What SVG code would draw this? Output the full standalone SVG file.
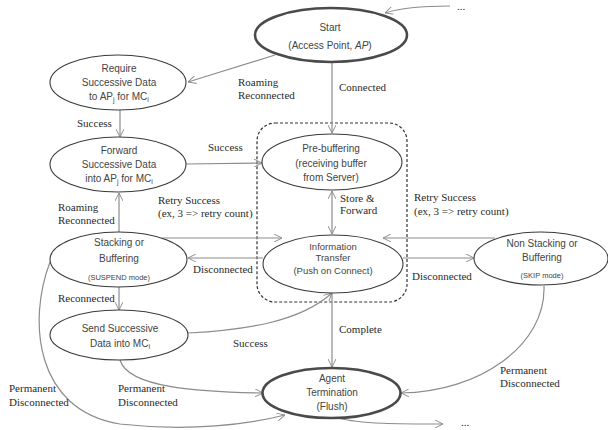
<svg xmlns="http://www.w3.org/2000/svg" width="608" height="430" viewBox="0 0 608 430">
<defs>
<marker id="ah" viewBox="0 0 10 10" refX="10" refY="5" markerWidth="8" markerHeight="8" markerUnits="userSpaceOnUse" orient="auto-start-reverse">
<path d="M0,0 L10,5 L0,10" fill="none" stroke="#8c8c8c" stroke-width="1.2"/>
</marker>
<style>
.n{fill:#fff;stroke:#3a3a3a;stroke-width:1.1}
.nt{fill:#fff;stroke:#4a4a4a;stroke-width:2.6}
.t{font-family:"Liberation Sans","DejaVu Sans",sans-serif;font-size:10px;fill:#444;text-anchor:middle}
.ts{font-size:9.5px}
.tx{font-size:7.5px}
.l{font-family:"Liberation Serif","DejaVu Serif",serif;font-size:11px;fill:#2a2a2a}
.c{fill:none;stroke:#8c8c8c;stroke-width:1.2}
.a{marker-end:url(#ah)}
.b{marker-start:url(#ah);marker-end:url(#ah)}
.sub{font-size:7px}
</style>
</defs>
<rect x="0" y="0" width="608" height="430" fill="#fff"/>
<g id="group">
<rect x="257" y="123" width="150" height="179" rx="18" ry="18" fill="none" stroke="#333" stroke-width="1.2" stroke-dasharray="3,2"/>
</g>
<g id="connectors">
<path class="c a" d="M450,6 C425,6 400,8 385,13"/>
<path class="c a" d="M275,55 L188,82"/>
<path class="c a" d="M332,62 L332,133"/>
<path class="c a" d="M120,110 L120,137"/>
<path class="c a" d="M185,164 L262,163"/>
<path class="c b" d="M332,191 L332,234"/>
<path class="c a" d="M119,232 L119,193"/>
<path class="c a" d="M162,238 L282,238"/>
<path class="c a" d="M263,258 L188,258"/>
<path class="c a" d="M495,238 L383,238"/>
<path class="c a" d="M403,258 L474,258"/>
<path class="c a" d="M119,287 L119,310"/>
<path class="c a" d="M188,333 C245,330 300,322 332,293"/>
<path class="c a" d="M332,293 L332,367"/>
<path class="c a" d="M120,360 C128,388 200,392 263,393"/>
<path class="c a" d="M50,262 C28,320 34,410 120,424 C190,432 250,424 285,415"/>
<path class="c a" d="M544,286 C546,345 480,392 401,393"/>
<path class="c a" d="M338,418 C360,424 400,424 443,424"/>
</g>
<g id="labels">
<text class="l" x="457" y="10">...</text>
<text class="l" x="238" y="86">Roaming</text>
<text class="l" x="238" y="99">Reconnected</text>
<text class="l" x="339" y="91">Connected</text>
<text class="l" x="77" y="127">Success</text>
<text class="l" x="208" y="151">Success</text>
<text class="l" x="158" y="204">Retry Success</text>
<text class="l" x="158" y="217">(ex, 3 =&gt; retry count)</text>
<text class="l" x="340" y="202">Store &amp;</text>
<text class="l" x="340" y="214">Forward</text>
<text class="l" x="414" y="201">Retry Success</text>
<text class="l" x="414" y="215">(ex, 3 =&gt; retry count)</text>
<text class="l" x="58" y="211">Roaming</text>
<text class="l" x="58" y="224">Reconnected</text>
<text class="l" x="193" y="273">Disconnected</text>
<text class="l" x="412" y="280">Disconnected</text>
<text class="l" x="58" y="302">Reconnected</text>
<text class="l" x="339" y="333">Complete</text>
<text class="l" x="233" y="347">Success</text>
<text class="l" x="9" y="392">Permanent</text>
<text class="l" x="9" y="406">Disconnected</text>
<text class="l" x="118" y="392">Permanent</text>
<text class="l" x="118" y="406">Disconnected</text>
<text class="l" x="500" y="374">Permanent</text>
<text class="l" x="500" y="387">Disconnected</text>
<text class="l" x="461" y="426">...</text>
</g>
<g id="start">
<ellipse class="nt" cx="331" cy="35" rx="76" ry="27"/>
<text class="t" x="330" y="31">Start</text>
<text class="t" x="330" y="49">(Access Point, <tspan font-style="italic">AP</tspan>)</text>
</g>
<g id="require">
<ellipse class="n" cx="118" cy="82.5" rx="68" ry="27.5"/>
<text class="t" x="119" y="72">Require</text>
<text class="t" x="119" y="86">Successive Data</text>
<text class="t" x="119" y="100">to AP<tspan class="sub" dy="2">j</tspan><tspan dy="-2"> for MC</tspan><tspan class="sub" dy="2">i</tspan></text>
</g>
<g id="forward">
<ellipse class="n" cx="118" cy="164.5" rx="68" ry="27.5"/>
<text class="t" x="119" y="154">Forward</text>
<text class="t" x="119" y="168">Successive Data</text>
<text class="t" x="119" y="182">into AP<tspan class="sub" dy="2">j</tspan><tspan dy="-2"> for MC</tspan><tspan class="sub" dy="2">i</tspan></text>
</g>
<g id="prebuffering">
<ellipse class="n" cx="332" cy="162" rx="70" ry="28"/>
<text class="t" x="331" y="152">Pre-buffering</text>
<text class="t" x="331" y="167">(receiving buffer</text>
<text class="t" x="331" y="181">from Server)</text>
</g>
<g id="stacking">
<ellipse class="n" cx="118.5" cy="259.5" rx="68.5" ry="27.5"/>
<text class="t" x="119" y="246">Stacking or</text>
<text class="t" x="119" y="262">Buffering</text>
<text class="t tx" x="119" y="280">(SUSPEND mode)</text>
</g>
<g id="information">
<ellipse class="n" cx="333" cy="264" rx="70" ry="29"/>
<text class="t ts" x="333" y="250">Information</text>
<text class="t ts" x="333" y="261">Transfer</text>
<text class="t ts" x="333" y="274">(Push on Connect)</text>
</g>
<g id="nonstacking">
<ellipse class="n" cx="541" cy="258.5" rx="67" ry="26.5"/>
<text class="t" x="542" y="247">Non Stacking or</text>
<text class="t" x="542" y="261">Buffering</text>
<text class="t tx" x="542" y="278">(SKIP mode)</text>
</g>
<g id="send">
<ellipse class="n" cx="119" cy="335" rx="69" ry="25"/>
<text class="t" x="120" y="332">Send Successive</text>
<text class="t" x="120" y="347">Data into MC<tspan class="sub" dy="2">i</tspan></text>
</g>
<g id="agent">
<ellipse class="nt" cx="331.5" cy="393" rx="69" ry="25"/>
<text class="t" x="332" y="382">Agent</text>
<text class="t" x="332" y="396">Termination</text>
<text class="t" x="332" y="410">(Flush)</text>
</g>
</svg>
